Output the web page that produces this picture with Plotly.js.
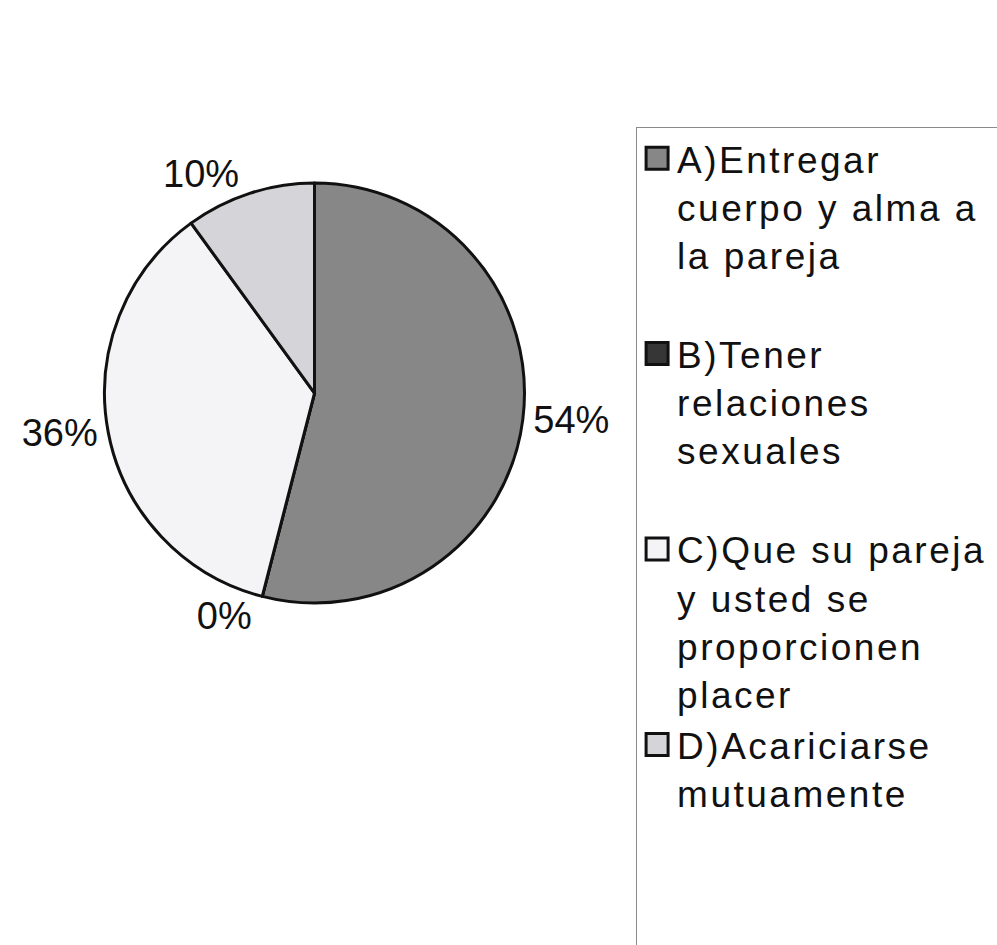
<!DOCTYPE html>
<html>
<head>
<meta charset="utf-8">
<script src="https://cdn.plot.ly/plotly-3.0.1.min.js"></script>
<style>
  html, body { margin: 0; padding: 0; background: #ffffff; }
  #chart { width: 997px; height: 945px; }
  .legendtext { letter-spacing: 2.5px; }
</style>
</head>
<body>
<div id="chart"></div>
<script>
// Categories (legend labels)
const categories = [
  "A)Entregar<br>cuerpo y alma a<br>la pareja<br> ",
  "B)Tener<br>relaciones<br>sexuales<br> ",
  "C)Que su pareja<br>y usted se<br>proporcionen<br>placer",
  "D)Acariciarse<br>mutuamente<br> <br> <br> "
];
// Percent values
const percentValues = [54, 0, 36, 10];
// Slice colours
const sliceColors = ["#878787", "#363636", "#f4f4f7", "#d4d4d9"];

const trace = {
  type: "pie",
  labels: categories,
  values: percentValues,
  sort: false,
  direction: "clockwise",
  rotation: 0,
  marker: { colors: sliceColors, line: { color: "#111111", width: 3 } },
  textinfo: "percent",
  textposition: "outside",
  outsidetextfont: { family: "Arial, 'Liberation Sans', sans-serif", size: 38, color: "#111111" },
  domain: { x: [0.1033, 0.5276], y: [0.3619, 0.8063] },
  hoverinfo: "label+percent"
};

const layout = {
  width: 997,
  height: 945,
  margin: { l: 0, r: 0, t: 0, b: 0, autoexpand: false },
  paper_bgcolor: "#ffffff",
  showlegend: true,
  legend: {
    x: 0.638, xanchor: "left",
    y: 0.866, yanchor: "top",
    valign: "top",
    bgcolor: "#ffffff",
    bordercolor: "#8a8a8a",
    borderwidth: 1,
    font: { family: "Arial, 'Liberation Sans', sans-serif", size: 37, color: "#111111" }
  },
  font: { family: "Arial, 'Liberation Sans', sans-serif", color: "#111111" }
};

Plotly.newPlot("chart", [trace], layout, { displayModeBar: false, staticPlot: true }).then(function () {
  document.querySelectorAll("path.legendpie").forEach(function (p) {
    p.setAttribute("d", "M11,11H-11V-11H11Z");
  });
  // the legend frame runs past the right and bottom edges of the picture
  document.querySelectorAll(".legend rect.bg").forEach(function (r) {
    r.setAttribute("width", 420);
    r.setAttribute("height", 900);
  });
});
</script>
</body>
</html>
